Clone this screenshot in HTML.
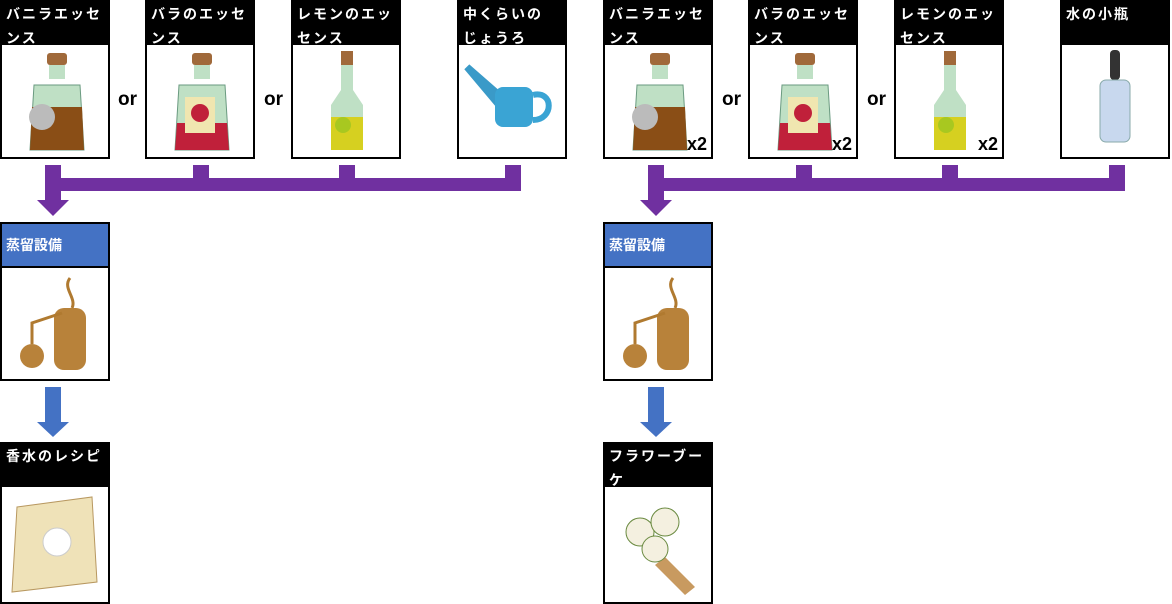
<!DOCTYPE html>
<html><head><meta charset="utf-8"><style>
body{margin:0;width:1172px;height:604px;background:#fff;position:relative;overflow:hidden;font-family:"Liberation Sans","Noto Sans CJK JP",sans-serif}
.box{position:absolute;border:2px solid #000;box-sizing:border-box;background:#fff;width:110px}
.hd{background:#000;color:#fff;font-weight:bold;font-size:14px;line-height:24px;padding:0 4px;letter-spacing:2px;height:43px;overflow:hidden;white-space:nowrap}
.hb{background:#4472c4;color:#fff;font-weight:bold;font-size:14px;line-height:42px;padding:0 4px;height:42px;border-bottom:2px solid #000}
.or{position:absolute;font-weight:bold;font-size:19px;top:89px}
.x2{position:absolute;right:4px;bottom:2px;font-weight:bold;font-size:18px}
.p{position:absolute;background:#7030a0}
.b{position:absolute;background:#4472c4}
svg{position:absolute}
</style></head><body>
<svg width="0" height="0" style="position:absolute">
<defs>
<g id="bot">
<rect x="45" y="8" width="20" height="12" rx="3" fill="#a0693a"/>
<rect x="47" y="20" width="16" height="14" fill="#bfe0c5"/>
<path d="M32 40 L78 40 L82 105 L28 105 Z" fill="#bfe0c5" stroke="#6a9a80"/>
</g>
</defs></svg>

<div class="box" style="left:0;top:0;height:159px"><div class="hd">バニラエッセ<br>ンス</div>
<svg width="106" height="112" style="left:0;top:43px"><use href="#bot"/><path d="M30 62 L80 62 L82 105 L28 105Z" fill="#8a4e16"/><circle cx="40" cy="72" r="13" fill="#bbb"/></svg></div>
<div class="or" style="left:118px">or</div>
<div class="box" style="left:145px;top:0;height:159px"><div class="hd">バラのエッセ<br>ンス</div>
<svg width="106" height="112" style="left:0;top:43px"><use href="#bot"/><path d="M30 78 L80 78 L82 105 L28 105Z" fill="#c0203a"/><rect x="38" y="52" width="30" height="36" fill="#f0e6b0"/><circle cx="53" cy="68" r="9" fill="#c0203a"/></svg></div>
<div class="or" style="left:264px">or</div>
<div class="box" style="left:291px;top:0;height:159px"><div class="hd">レモンのエッ<br>センス</div>
<svg width="106" height="112" style="left:0;top:43px"><rect x="48" y="6" width="12" height="14" fill="#a0693a"/><path d="M48 20 L60 20 L60 45 L70 60 L70 105 L38 105 L38 60 L48 45Z" fill="#bfe0c5"/><path d="M38 72 L70 72 L70 105 L38 105Z" fill="#d6d020"/><circle cx="50" cy="80" r="8" fill="#a8c820"/></svg></div>
<div class="box" style="left:457px;top:0;height:159px"><div class="hd">中くらいの<br>じょうろ</div>
<svg width="106" height="112" style="left:0;top:43px"><path d="M8 22 L40 50 L40 60 Z" stroke="#3a9ac8" stroke-width="7" fill="none"/><rect x="36" y="42" width="38" height="40" rx="8" fill="#3aa4d4"/><path d="M74 50 C95 45 95 75 74 75" stroke="#3aa4d4" stroke-width="6" fill="none"/></svg></div>

<div class="p" style="left:45px;top:165px;width:16px;height:37px"></div>
<svg width="32" height="18" style="left:37px;top:200px"><polygon points="0,0 32,0 16,16" fill="#7030a0"/></svg>
<div class="p" style="left:45px;top:178px;width:476px;height:13px"></div>
<div class="p" style="left:193px;top:165px;width:16px;height:20px"></div>
<div class="p" style="left:339px;top:165px;width:16px;height:20px"></div>
<div class="p" style="left:505px;top:165px;width:16px;height:20px"></div>

<div class="box" style="left:0;top:222px;height:159px"><div class="hb">蒸留設備</div>
<svg width="106" height="112" style="left:0;top:44px"><path d="M68 10 C60 20 75 30 70 40" stroke="#b07a30" stroke-width="3" fill="none"/><rect x="52" y="40" width="32" height="62" rx="10" fill="#b8823a"/><circle cx="30" cy="88" r="12" fill="#b8823a"/><path d="M30 76 L30 55 L60 45" stroke="#b07a30" stroke-width="3" fill="none"/></svg></div>
<div class="b" style="left:45px;top:387px;width:16px;height:37px"></div>
<svg width="32" height="16" style="left:37px;top:422px"><polygon points="0,0 32,0 16,15" fill="#4472c4"/></svg>
<div class="box" style="left:0;top:442px;height:162px"><div class="hd">香水のレシピ</div>
<svg width="106" height="112" style="left:0;top:43px"><path d="M15 20 L90 10 L95 95 L10 105Z" fill="#efe2b8" stroke="#b89860"/><circle cx="55" cy="55" r="14" fill="#fff" stroke="#ccc"/></svg></div>

<div class="box" style="left:603px;top:0;height:159px"><div class="hd">バニラエッセ<br>ンス</div>
<svg width="106" height="112" style="left:0;top:43px"><use href="#bot"/><path d="M30 62 L80 62 L82 105 L28 105Z" fill="#8a4e16"/><circle cx="40" cy="72" r="13" fill="#bbb"/></svg><div class="x2">x2</div></div>
<div class="or" style="left:722px">or</div>
<div class="box" style="left:748px;top:0;height:159px"><div class="hd">バラのエッセ<br>ンス</div>
<svg width="106" height="112" style="left:0;top:43px"><use href="#bot"/><path d="M30 78 L80 78 L82 105 L28 105Z" fill="#c0203a"/><rect x="38" y="52" width="30" height="36" fill="#f0e6b0"/><circle cx="53" cy="68" r="9" fill="#c0203a"/></svg><div class="x2">x2</div></div>
<div class="or" style="left:867px">or</div>
<div class="box" style="left:894px;top:0;height:159px"><div class="hd">レモンのエッ<br>センス</div>
<svg width="106" height="112" style="left:0;top:43px"><rect x="48" y="6" width="12" height="14" fill="#a0693a"/><path d="M48 20 L60 20 L60 45 L70 60 L70 105 L38 105 L38 60 L48 45Z" fill="#bfe0c5"/><path d="M38 72 L70 72 L70 105 L38 105Z" fill="#d6d020"/><circle cx="50" cy="80" r="8" fill="#a8c820"/></svg><div class="x2">x2</div></div>
<div class="box" style="left:1060px;top:0;height:159px"><div class="hd">水の小瓶</div>
<svg width="106" height="112" style="left:0;top:43px"><rect x="48" y="5" width="10" height="30" rx="4" fill="#333"/><rect x="38" y="35" width="30" height="62" rx="6" fill="#c8d8ee" stroke="#8aa"/></svg></div>

<div class="p" style="left:648px;top:165px;width:16px;height:37px"></div>
<svg width="32" height="18" style="left:640px;top:200px"><polygon points="0,0 32,0 16,16" fill="#7030a0"/></svg>
<div class="p" style="left:648px;top:178px;width:477px;height:13px"></div>
<div class="p" style="left:796px;top:165px;width:16px;height:20px"></div>
<div class="p" style="left:942px;top:165px;width:16px;height:20px"></div>
<div class="p" style="left:1109px;top:165px;width:16px;height:20px"></div>

<div class="box" style="left:603px;top:222px;height:159px"><div class="hb">蒸留設備</div>
<svg width="106" height="112" style="left:0;top:44px"><path d="M68 10 C60 20 75 30 70 40" stroke="#b07a30" stroke-width="3" fill="none"/><rect x="52" y="40" width="32" height="62" rx="10" fill="#b8823a"/><circle cx="30" cy="88" r="12" fill="#b8823a"/><path d="M30 76 L30 55 L60 45" stroke="#b07a30" stroke-width="3" fill="none"/></svg></div>
<div class="b" style="left:648px;top:387px;width:16px;height:37px"></div>
<svg width="32" height="16" style="left:640px;top:422px"><polygon points="0,0 32,0 16,15" fill="#4472c4"/></svg>
<div class="box" style="left:603px;top:442px;height:162px"><div class="hd">フラワーブー<br>ケ</div>
<svg width="106" height="112" style="left:0;top:43px"><path d="M60 70 L90 100 L80 108 L50 78Z" fill="#c89a60"/><circle cx="35" cy="45" r="14" fill="#f4f0e0" stroke="#6a8a40"/><circle cx="60" cy="35" r="14" fill="#f4f0e0" stroke="#6a8a40"/><circle cx="50" cy="62" r="13" fill="#f4f0e0" stroke="#6a8a40"/></svg></div>
</body></html>
